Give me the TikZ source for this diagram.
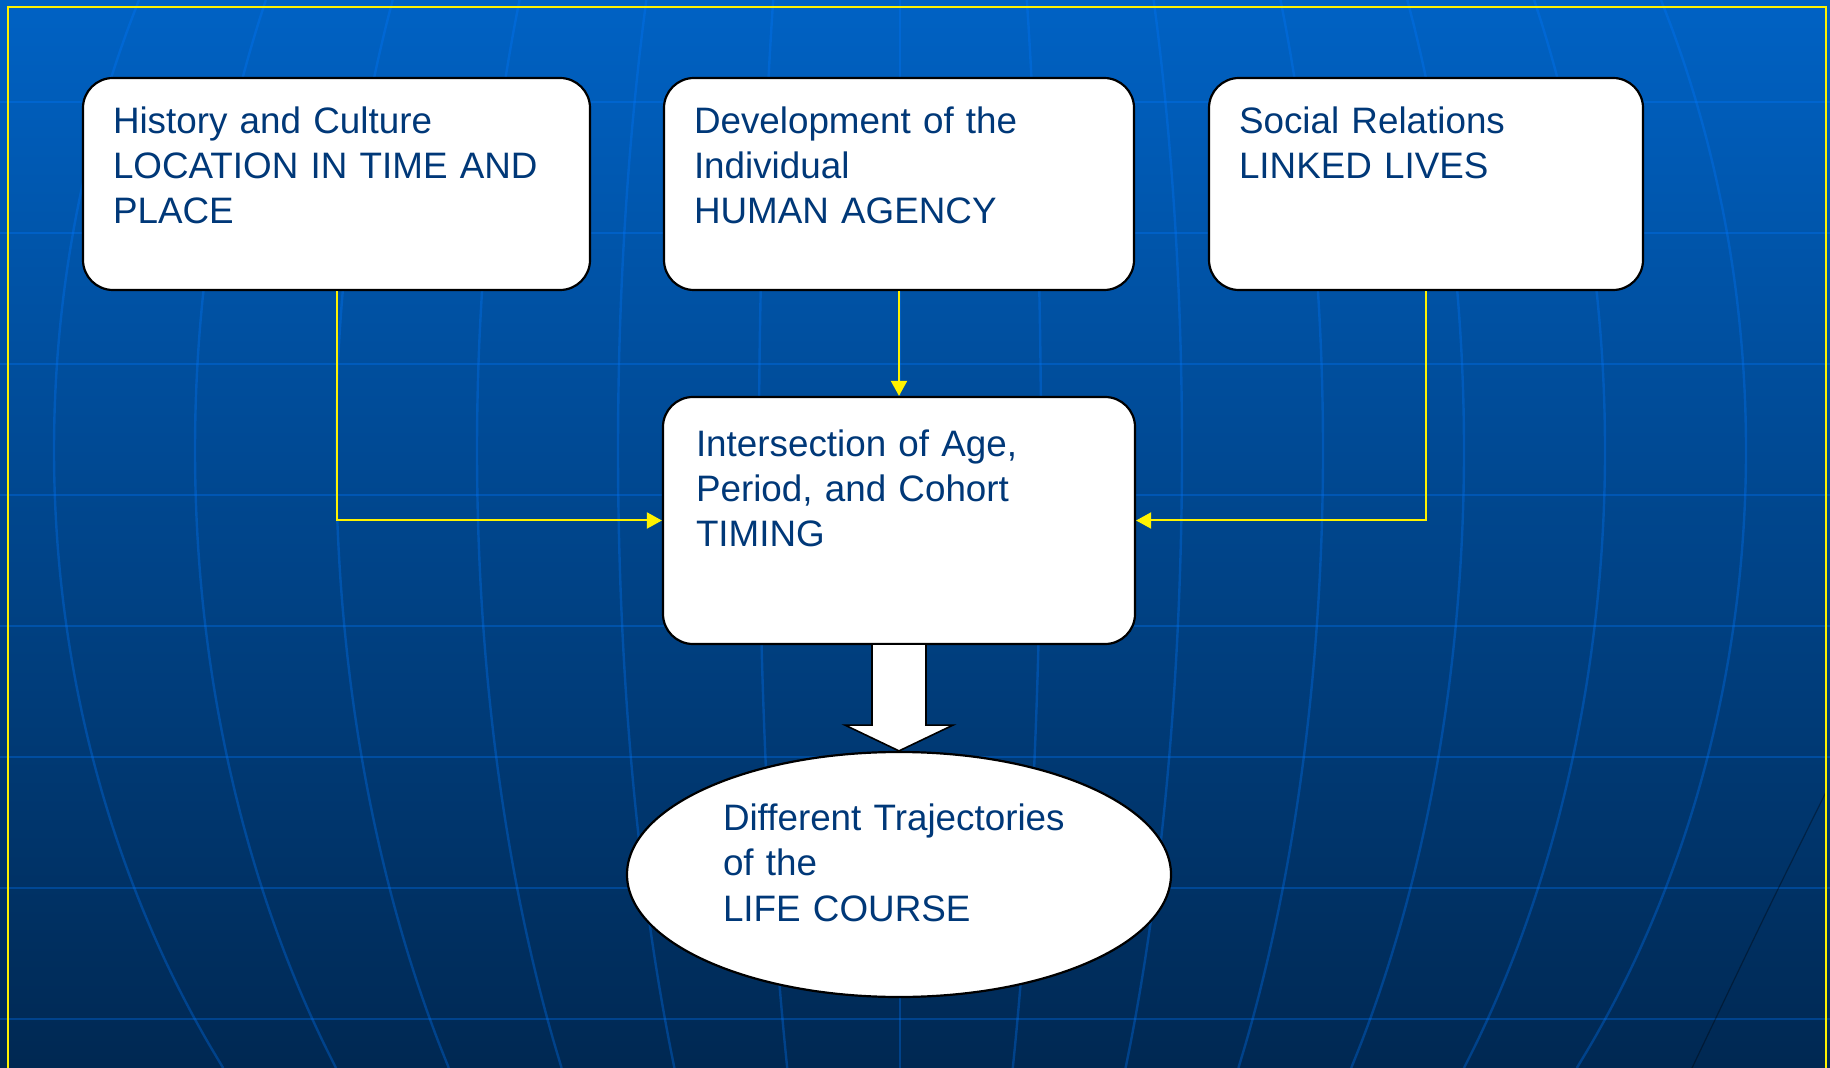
\documentclass[tikz,border=0pt]{standalone}
\usepackage{fontspec}
\setmainfont{Liberation Sans}
\usetikzlibrary{arrows.meta,calc,shapes.geometric}
\definecolor{txtblue}{RGB}{0,56,120}
\definecolor{skytop}{RGB}{0,98,196}
\definecolor{skymid}{RGB}{0,70,140}
\definecolor{skybot}{RGB}{0,40,82}
\definecolor{gridblue}{RGB}{0,120,255}

\tikzset{
  stage/.style={draw=black, line width=1.1pt, fill=white, rounded corners=15pt,
    inner xsep=15pt, inner ysep=0pt, align=left, text=txtblue,
    font=\fontsize{18.4}{22.6}\selectfont, text height=27.65pt, text depth=78.35pt},
  course/.style={ellipse, draw=black, line width=1.1pt, fill=white,
    minimum width=272pt, minimum height=122.5pt, inner sep=0pt,
    text width=176pt, align=left, text=txtblue,
    font=\fontsize{18.4}{22.6}\selectfont, text height=13.5pt, text depth=57.3pt},
  feed/.style={draw=yellow, line width=1pt, -{Triangle[length=7.5pt,width=8pt]}},
  grid/.style={gridblue, opacity=0.32, line width=1.2pt},
}

\begin{document}
\begin{tikzpicture}[x=0.5pt,y=-0.5pt]
  \useasboundingbox (0,0) rectangle (1830,1068);
  % background globe
  \fill[top color=skytop, middle color=skymid, bottom color=skybot] (0,0) rectangle (1830,1068);
  \foreach \h in {102,233,364,495,626,757,888,1019}
    \draw[grid] (0,\h) -- (1830,\h);
  \foreach \k in {-6,...,6}
    \draw[grid] plot[domain=0:1068, samples=40, smooth] ({900+141*\k*sqrt(1-((\x-450)/1030)^2)}, \x);
  \draw[black, opacity=0.35, line width=0.6pt] (1826,792) .. controls (1765,915) .. (1692,1068);
  \draw[yellow, line width=1pt] (8,7) rectangle (1826,1090);

  % stages
  \node[stage, text width=223.5pt] (culture) at (336.5,184) {History and Culture\\LOCATION IN TIME AND\\PLACE};
  \node[stage, text width=205pt] (agency) at (899,184) {Development of the\\Individual\\HUMAN AGENCY};
  \node[stage, text width=187pt] (linked) at (1426,184) {Social Relations\\LINKED LIVES};
  \node[stage, text width=203pt, inner xsep=16.5pt, text height=29.65pt, text depth=93.85pt] (timing) at (899,520.5) {Intersection of Age,\\Period, and Cohort\\TIMING};
  \node[course] (course) at (899,874.5) {Different Trajectories\\of the\\LIFE COURSE};

  % connectors
  \draw[feed] (culture.south) |- (timing.west);
  \draw[feed] (agency.south) -- (timing.north);
  \draw[feed] (linked.south) |- (timing.east);
  \draw[fill=white, line width=0.8pt] ($(timing.south)+(-27,0)$) -- ++(0,80) -- ++(-27,0)
    -- (course.north) -- ($(timing.south)+(54,80)$) -- ++(-27,0) -- ($(timing.south)+(27,0)$);
\end{tikzpicture}
\end{document}
